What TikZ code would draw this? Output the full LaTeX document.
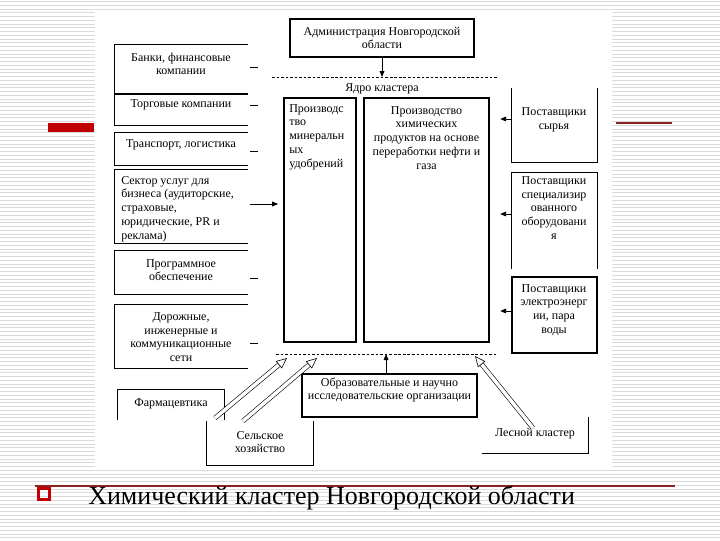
\documentclass[tikz,border=0pt]{standalone}
\usepackage{fontspec}
\setmainfont{Liberation Serif}
\usetikzlibrary{arrows.meta}
\definecolor{slidered}{HTML}{C00000}
\definecolor{thinred}{HTML}{8B2323}
\definecolor{stripegray}{HTML}{DADADA}

\tikzset{
  px/.style 2 args={minimum width={#1*0.75pt}, minimum height={#2*0.75pt}},
  box/.style={draw, line width=0.8pt, inner sep=0pt},
  openbox/.style={inner sep=0pt},
  edge/.style={line width=0.8pt},
  txt/.style={inner sep=0pt, align=center, font=\fontsize{9}{10.3}\selectfont},
  ltxt/.style={txt, align=left},
  arr/.style={-{Triangle[length=4.5pt,width=3.6pt]}, line width=0.7pt},
  stub/.style={line width=0.7pt},
  coreline/.style={dash pattern=on 2pt off 1.4pt, line width=0.6pt},
  hollow/.style={double=white, double distance=2.6pt, line width=0.45pt,
    -{Triangle[open, length=8pt, width=7pt]}},
}

\begin{document}
\begin{tikzpicture}[x=0.75pt, y=-0.75pt]
\useasboundingbox (0,0) rectangle (720,540);
\fill[white] (0,0) rectangle (720,540);
% slide stripes
\foreach \y in {1.5,5.25,...,540} {
  \draw[stripegray, line width=0.55pt] (0,\y) -- (720,\y);
}
\fill[white] (95,12) rectangle (612,468);

% slide decoration
\fill[slidered] (48,123) rectangle (94,132);
\draw[thinred, line width=0.8pt] (616,123) -- (672,123);
\draw[thinred, line width=0.8pt] (35,486) -- (675,486);
\draw[slidered, line width=1.8pt] (38.5,488.5) rectangle (49.5,499.5);
\node[anchor=base west, inner sep=0pt, font=\fontsize{19.5}{22}\selectfont] (title) at (88,504)
  {Химический кластер Новгородской области};

% top
\node[box, px={184}{38}] (admin) at (382,38) {};
\node[txt] (admin-t) at (382,38) {Администрация Новгородской\\области};
\coordinate (td1) at (272,77);
\coordinate (td2) at (497,77);
\draw[coreline] (td1) -- (td2);
\draw[arr] (admin.south) -- (admin.south |- td1);
\node[txt] (core-t) at (382,89) {Ядро кластера};

% core of the cluster
\node[box, px={72}{244}] (mineral) at (320,220) {};
\node[ltxt, anchor=north west] (mineral-t) at (289,104)
  {Производс\\тво\\минеральн\\ых\\удобрений};
\node[box, px={125}{244}] (chem) at (426.5,220) {};
\node[txt, anchor=north] (chem-t) at (426.5,106)
  {Производство\\химических\\продуктов на основе\\переработки нефти и\\газа};
\coordinate (bd1) at (276,354);
\coordinate (bd2) at (497,354);
\draw[coreline] (bd1) -- (bd2);

\node[box, px={175}{43}] (edu) at (389.5,395.5) {};
\node[txt] (edu-t) at (389.5,390) {Образовательные и научно\\исследовательские организации};
\draw[arr] ([xshift=-2.6pt]edu.north) -- ([xshift=-2.6pt]edu.north |- bd1);

% left column
\foreach \n/\cy/\h in {banks/69/48, trade/110/30, transport/149/32,
    services/206.5/73, software/272.5/43, roads/336.5/63} {
  \node[openbox, px={133}{\h}] (\n) at (181.5,\cy) {};
  \draw[edge] (\n.north east) -- (\n.north west) -- (\n.south west) -- (\n.south east);
}
\node[txt] (banks-t) at (181,64) {Банки, финансовые\\компании};
\node[txt] (trade-t) at (181,105) {Торговые компании};
\node[txt] (transport-t) at (181,145) {Транспорт, логистика};
\node[ltxt, anchor=north west] (services-t) at (121,176)
  {Сектор услуг для\\бизнеса (аудиторские,\\страховые,\\юридические, PR и\\реклама)};
\node[txt] (software-t) at (181,270) {Программное\\обеспечение};
\node[txt] (roads-t) at (181,337) {Дорожные,\\инженерные и\\коммуникационные\\сети};

\foreach \n/\sy in {banks/67, trade/105, transport/151, software/278, roads/343} {
  \draw[stub] ([xshift=1.5pt]\n.east |- 0,\sy) -- ++(8,0);
}
\draw[arr, shorten >=4pt] ([xshift=1pt]services.east |- 0,204) -- (mineral.west |- 0,204);

% bottom left
\node[openbox, px={106}{30}] (pharma) at (171,405) {};
\draw[edge] (pharma.south west) -- (pharma.north west) -- (pharma.north east) -- (pharma.south east);
\node[txt] (pharma-t) at (171,404) {Фармацевтика};
\node[openbox, px={106}{44}] (agri) at (260,443) {};
\draw[edge] (agri.north west) -- (agri.south west) -- (agri.south east) -- (agri.north east);
\node[txt] (agri-t) at (260,442) {Сельское\\хозяйство};
\node[openbox, px={106}{36}] (forest) at (535,435) {};
\draw[edge] (forest.south west) -- (forest.south east) -- (forest.north east);
\node[txt] (forest-t) at (535,434) {Лесной кластер};

\coordinate (h1s) at (215,418);
\coordinate (h1e) at (287,358);
\coordinate (h2s) at (243,421);
\coordinate (h2e) at (317,358);
\coordinate (h3s) at (533,428);
\coordinate (h3e) at (475,356);
\draw[hollow] (h1s) -- (h1e);
\draw[hollow] (h2s) -- (h2e);
\draw[hollow] (h3s) -- (h3e);

% right column
\node[openbox, px={85}{74}] (raw) at (554.5,125) {};
\draw[edge] (raw.north west) -- (raw.south west) -- (raw.south east) -- (raw.north east);
\node[txt] (raw-t) at (554,120) {Поставщики\\сырья};
\node[openbox, px={85}{96}] (equip) at (554.5,221) {};
\draw[edge] (equip.south west) -- (equip.north west) -- (equip.north east) -- (equip.south east);
\node[txt] (equip-t) at (554,208) {Поставщики\\специализир\\ованного\\оборудовани\\я};
\node[box, px={85}{76}] (power) at (554.5,315) {};
\node[txt] (power-t) at (554,310) {Поставщики\\электроэнерг\\ии, пара\\воды};
\foreach \n/\ay in {raw/119, equip/214, power/311} {
  \draw[arr, shorten >=8pt] (\n.west |- 0,\ay) -- (chem.east |- 0,\ay);
}
\end{tikzpicture}
\end{document}
